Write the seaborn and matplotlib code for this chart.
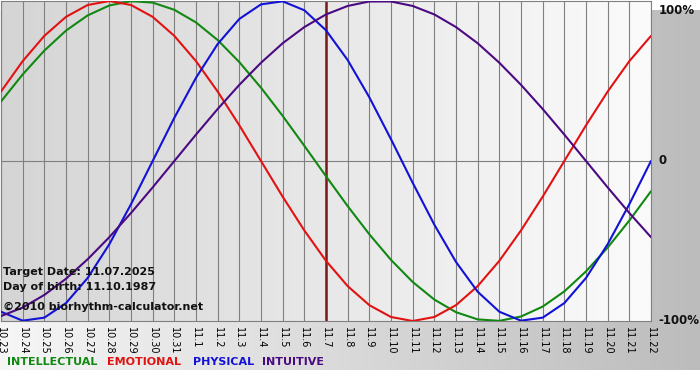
import pandas as pd
import matplotlib
matplotlib.use("Agg")
import matplotlib.pyplot as plt
import matplotlib.transforms as mtransforms
import numpy as np
import seaborn as sns


# DATA
dates = [
    "10.23", "10.24", "10.25", "10.26", "10.27", "10.28", "10.29", "10.30", "10.31",
    "11.1", "11.2", "11.3", "11.4", "11.5", "11.6", "11.7", "11.8", "11.9", "11.10",
    "11.11", "11.12", "11.13", "11.14", "11.15", "11.16", "11.17", "11.18", "11.19",
    "11.20", "11.21", "11.22",
]
target_date = "11.7"

intellectual = [
    0.372, 0.541, 0.690, 0.815, 0.910, 0.972, 0.999, 0.990, 0.945, 0.866, 0.756,
    0.618, 0.458, 0.282, 0.095, -0.095, -0.282, -0.458, -0.618, -0.756, -0.866,
    -0.945, -0.990, -0.999, -0.972, -0.910, -0.815, -0.690, -0.541, -0.372, -0.189,
]
emotional = [
    0.434, 0.624, 0.782, 0.901, 0.975, 1.000, 0.975, 0.901, 0.782, 0.624, 0.434,
    0.223, 0.000, -0.223, -0.434, -0.624, -0.782, -0.901, -0.975, -1.000, -0.975,
    -0.901, -0.782, -0.624, -0.434, -0.223, 0.000, 0.223, 0.434, 0.624, 0.782,
]
physical = [
    -0.942, -0.998, -0.979, -0.888, -0.731, -0.520, -0.270, 0.000, 0.270, 0.520, 0.731,
    0.888, 0.979, 0.998, 0.942, 0.817, 0.631, 0.398, 0.136, -0.136, -0.398,
    -0.631, -0.817, -0.942, -0.998, -0.979, -0.888, -0.731, -0.520, -0.270, 0.000,
]
intuitive = [
    -0.969, -0.916, -0.837, -0.736, -0.614, -0.476, -0.325, -0.165, 0.000, 0.165, 0.325,
    0.476, 0.614, 0.736, 0.837, 0.916, 0.969, 0.997, 0.997, 0.969, 0.916,
    0.837, 0.736, 0.614, 0.476, 0.325, 0.165, 0.000, -0.165, -0.325, -0.476,
]

rhythms = ["INTELLECTUAL", "EMOTIONAL", "PHYSICAL", "INTUITIVE"]
palette = {
    "INTELLECTUAL": "#118811",
    "EMOTIONAL": "#e21212",
    "PHYSICAL": "#1212d6",
    "INTUITIVE": "#4b0a82",
}

info_lines = [
    "Target Date: 11.07.2025",
    "Day of birth: 11.10.1987",
    "\u00a92010 biorhythm-calculator.net",
]

# LONG FORM TABLE
rows = []
for name, values in zip(rhythms, [intellectual, emotional, physical, intuitive]):
    for i, v in enumerate(values):
        rows.append({"day": i, "value": v, "rhythm": name})
df = pd.DataFrame(rows)


# STYLE
sns.set_style("white")
plt.rcParams["font.family"] = ["DejaVu Sans"]

W, H = 700, 380
fig = plt.figure(figsize=(W / 100, H / 100), dpi=100)
fig.patch.set_facecolor("white")

# figure background gradient (light left -> gray right)
bg_fig = fig.add_axes([0, 10 / H, 1, 360 / H], zorder=-2)
grad = np.linspace(0, 1, 256).reshape(1, -1)
bg_fig.imshow(grad, aspect="auto", extent=[0, 1, 0, 1],
              cmap=matplotlib.colors.LinearSegmentedColormap.from_list("g1", ["#f6f6f6", "#bcbcbc"]))
bg_fig.axis("off")

# plot area
left, right, top, bottom = 1, 651, 1, 321
pos = [left / W, 1 - bottom / H, (right - left) / W, (bottom - top) / H]

bg_ax = fig.add_axes(pos, zorder=-1)
bg_ax.imshow(grad, aspect="auto", extent=[0, 1, 0, 1],
             cmap=matplotlib.colors.LinearSegmentedColormap.from_list("g2", ["#d5d5d5", "#fbfbfb"]))
bg_ax.axis("off")

ax = fig.add_axes(pos, zorder=1)
ax.set_facecolor("none")

grid_color = "#808080"
ax.grid(axis="x", color=grid_color, linewidth=0.8)
ax.axhline(0, color=grid_color, linewidth=0.8, zorder=1)
ax.axvline(dates.index(target_date), color="#7a1818", linewidth=1.8, zorder=2)

sns.lineplot(
    data=df, x="day", y="value", hue="rhythm", hue_order=rhythms,
    palette=palette, linewidth=1.5, legend=False, ax=ax, zorder=3,
)

ax.set_xlim(0, len(dates) - 1)
ax.set_ylim(-1, 1)
ax.set_xlabel("")
ax.set_ylabel("")
ax.set_yticks([])
ax.set_xticks(range(len(dates)))
ax.set_xticklabels(dates, rotation=-90, fontsize=7, color="black")
ax.tick_params(axis="x", length=3, width=0.8, color=grid_color, pad=1)
for s in ax.spines.values():
    s.set_color(grid_color)
    s.set_linewidth(0.8)

# right side percent labels
trans = mtransforms.blended_transform_factory(ax.transAxes, ax.transData)
ax.annotate("100%", xy=(1, 1), xycoords=trans, xytext=(5.5, -2), textcoords="offset points",
            va="top", ha="left", fontsize=8.5, fontweight="bold", color="#111111",
            annotation_clip=False)
ax.annotate("0", xy=(1, 0), xycoords=trans, xytext=(5.5, 0), textcoords="offset points",
            va="center", ha="left", fontsize=8.5, fontweight="bold", color="#111111",
            annotation_clip=False)
ax.annotate("-100%", xy=(1, -1), xycoords=trans, xytext=(5.5, 0), textcoords="offset points",
            va="center", ha="left", fontsize=8.5, fontweight="bold", color="#111111",
            annotation_clip=False)

# info text inside the plot
for txt, ypx in zip(info_lines, [272, 287, 307]):
    ax.text(2 / 650, (bottom - ypx) / (bottom - top), txt, transform=ax.transAxes,
            fontsize=8, fontweight="bold", color="#111111", va="center", ha="left", zorder=4)

# legend words along the bottom
for name, xpx in zip(rhythms, [7, 107, 193, 262]):
    fig.text(xpx / W, 1 - 362 / H, name, color=palette[name], fontsize=8,
             fontweight="bold", va="center", ha="left")

fig.savefig("out.png", dpi=100)
plt.close(fig)
